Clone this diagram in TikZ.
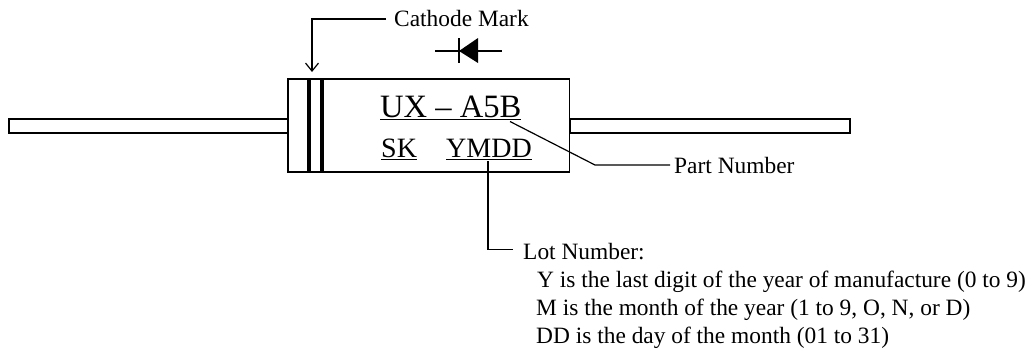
\documentclass[tikz,border=0pt]{standalone}
\usepackage{fontspec}
\setmainfont{Liberation Serif}
\usetikzlibrary{arrows.meta}
\tikzset{
  x=1pt,y=-1pt,
  ln/.style={draw=black,line width=1.2pt},
  band/.style={draw=none,fill=black},
  lbl/.style={inner sep=0pt,anchor=base west,font=\fontsize{23.4}{26}\selectfont},
  markone/.style={inner sep=0pt,anchor=base west,font=\fontsize{32.6}{36}\selectfont},
  marktwo/.style={inner sep=0pt,anchor=base west,font=\fontsize{28}{32}\selectfont},
}
\begin{document}
\begin{tikzpicture}
\useasboundingbox (0,0) rectangle (1032,349);
\draw[ln] (9,119) rectangle (288,133);
\draw[ln] (570,119) rectangle (850,133);
\draw[ln] (288,79) rectangle (569.5,172);
\fill[band] (307,79) rectangle (311,172);
\fill[band] (320,79) rectangle (324,172);
% diode symbol
\draw[ln] (435,51) -- (502,51);
\draw[ln] (459,38) -- (459,63);
\fill[band] (459,51) -- (478,38) -- (478,63) -- cycle;
% labels
\node[markone] (pn) at (380,117.5) {\underline{UX – A5B}};
\node[marktwo] (sk) at (381,157.5) {\underline{SK}};
\node[marktwo] (lot) at (446,157.5) {\underline{YMDD}};
\node[lbl] (cm) at (394,26) {Cathode Mark};
\node[lbl] (pl) at (674,173) {Part Number};
\node[lbl] (ll) at (523,259) {Lot Number:};
\node[lbl] (la) at (537,287) {Y is the last digit of the year of manufacture (0 to 9)};
\node[lbl] (lb) at (536,315) {M is the month of the year (1 to 9, O, N, or D)};
\node[lbl] (lc) at (536,343) {DD is the day of the month (01 to 31)};
% connectors
\coordinate (cmfrom) at (386,19);
\coordinate (cmto) at (312,72);
\draw[ln,-{Straight Barb[length=8pt,width=13pt,line width=1.2pt]}] (cmfrom) -| (cmto);
\coordinate (pnfrom) at (510,121.5);
\coordinate (pnbend) at (595,165);
\coordinate (pnto) at (670,165);
\draw[ln] (pnfrom) -- (pnbend) -- (pnto);
\coordinate (ltfrom) at (488,161);
\coordinate (ltto) at (513,249.5);
\draw[ln] (ltfrom) |- (ltto);
\end{tikzpicture}
\end{document}
